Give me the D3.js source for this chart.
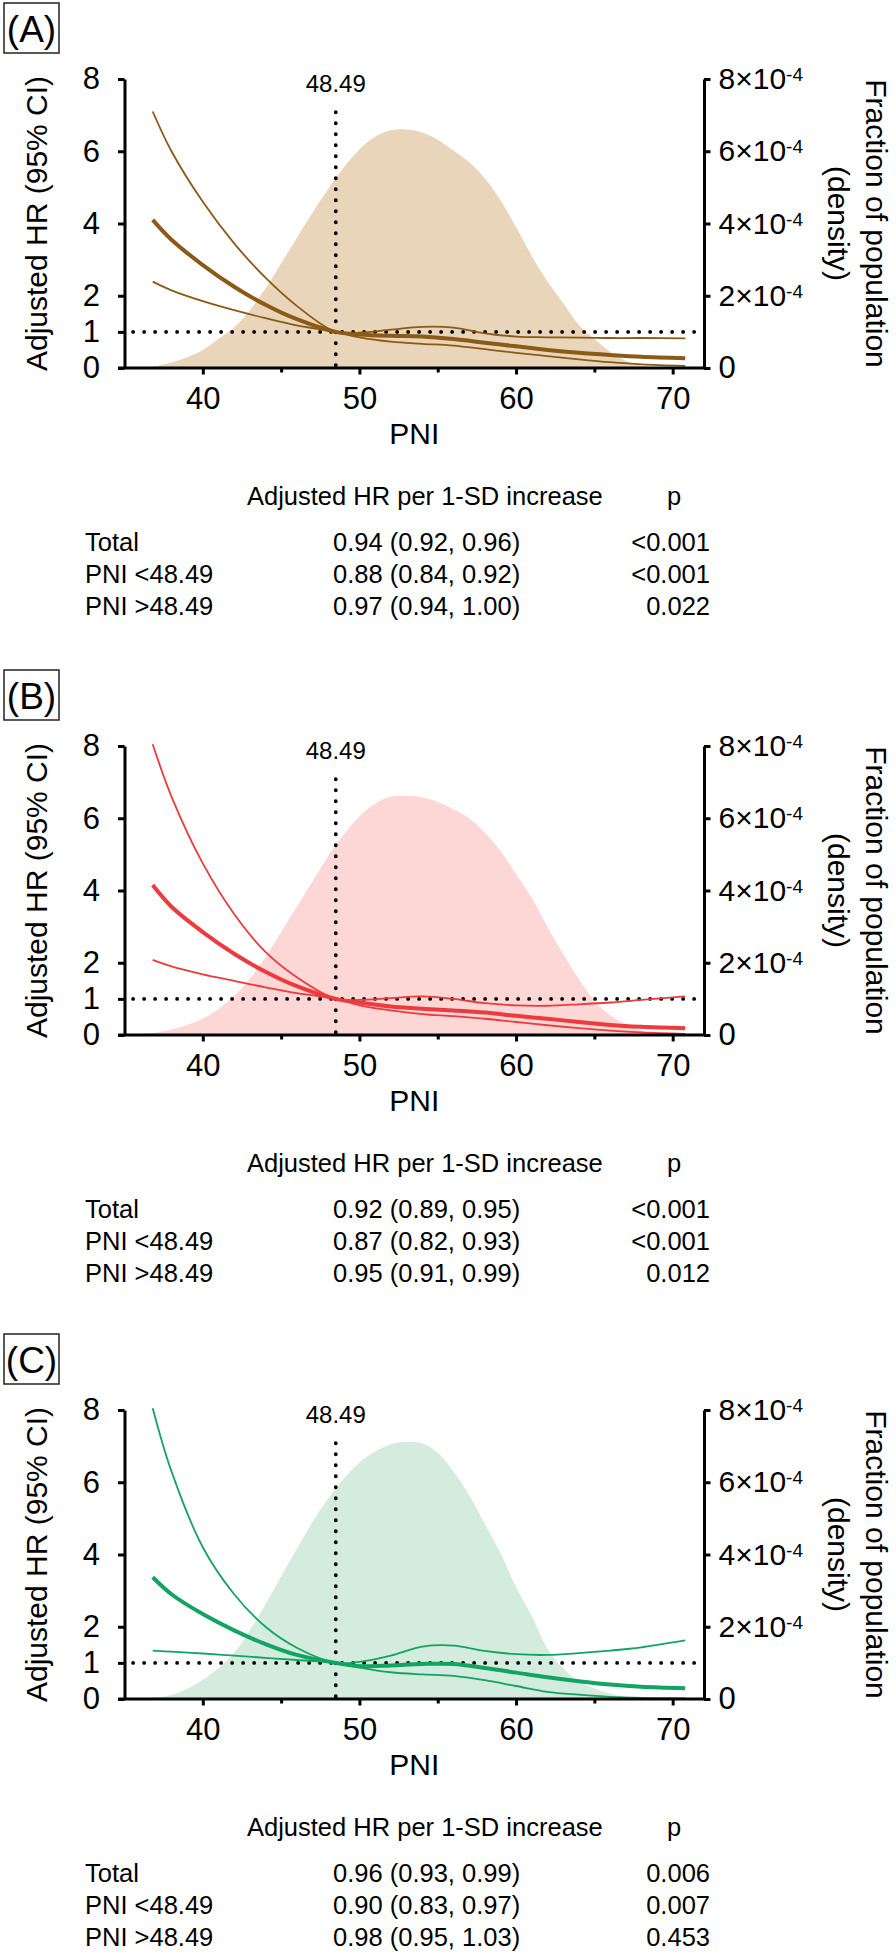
<!DOCTYPE html>
<html><head><meta charset="utf-8">
<script src="https://cdn.jsdelivr.net/npm/d3@7"></script>
<style>
body{margin:0;background:#fff}
svg{display:block}
text{font-family:"Liberation Sans",Arial,Helvetica,sans-serif;fill:#000}
</style>
</head><body>
<svg id="chart" width="896" height="1955"></svg>
<script>
// ---------------- DATA ----------------
const panelLabels = ["(A)", "(B)", "(C)"];
const cutoff = 48.49;
const cutoffLabel = "48.49";

// PNI positions at which HR curves were read
const hrX = [36.8, 38, 40, 42, 44, 46, 48.49, 50, 52, 54, 56, 58, 60, 62, 64, 66, 68, 70.8];

// Panel A (brown)
const hrA      = [4.1, 3.55, 2.85, 2.25, 1.75, 1.35, 1.0, 0.93, 0.89, 0.87, 0.8, 0.7, 0.6, 0.5, 0.42, 0.36, 0.31, 0.27];
const hrUpperA = [7.1, 6.0, 4.6, 3.45, 2.5, 1.72, 1.0, 0.98, 1.06, 1.14, 1.12, 0.96, 0.87, 0.85, 0.84, 0.83, 0.83, 0.82];
const hrLowerA = [2.39, 2.15, 1.85, 1.6, 1.38, 1.18, 1.0, 0.85, 0.73, 0.67, 0.62, 0.52, 0.42, 0.33, 0.24, 0.16, 0.1, 0.06];

// Panel B (red)
const hrB      = [4.15, 3.55, 2.85, 2.25, 1.75, 1.35, 1.0, 0.9, 0.79, 0.73, 0.68, 0.62, 0.53, 0.45, 0.36, 0.28, 0.23, 0.19];
const hrUpperB = [8.05, 6.6, 4.75, 3.35, 2.3, 1.6, 1.0, 0.97, 1.02, 1.07, 1.0, 0.88, 0.82, 0.81, 0.85, 0.9, 0.97, 1.07];
const hrLowerB = [2.08, 1.9, 1.68, 1.5, 1.32, 1.16, 1.0, 0.82, 0.68, 0.58, 0.52, 0.45, 0.36, 0.27, 0.19, 0.12, 0.07, 0.03];

// Panel C (green)
const hrC      = [3.37, 2.9, 2.35, 1.9, 1.52, 1.22, 1.0, 0.91, 0.93, 0.97, 0.97, 0.86, 0.73, 0.6, 0.49, 0.4, 0.34, 0.3];
const hrUpperC = [8.05, 6.3, 4.2, 2.9, 2.0, 1.42, 1.0, 1.03, 1.2, 1.45, 1.48, 1.33, 1.24, 1.22, 1.27, 1.34, 1.43, 1.62];
const hrLowerC = [1.34, 1.31, 1.26, 1.2, 1.14, 1.08, 1.0, 0.87, 0.74, 0.68, 0.64, 0.52, 0.36, 0.2, 0.12, 0.06, 0.03, 0.02];

// Population density (in units of 1e-4) at PNI 36..69
const densX = [36,37,38,39,40,41,42,43,44,45,46,47,48,49,50,51,52,53,54,55,56,57,58,59,60,61,62,63,64,65,66,67,68,69];
const densA = [0,0.05,0.15,0.3,0.5,0.8,1.12,1.6,2.2,2.9,3.6,4.3,4.95,5.55,6.05,6.4,6.58,6.6,6.52,6.32,6.02,5.7,5.25,4.65,3.9,3.1,2.4,1.8,1.2,0.8,0.45,0.2,0.06,0];
const densB = [0.02,0.06,0.15,0.28,0.45,0.72,1.08,1.55,2.15,2.85,3.55,4.25,4.95,5.55,6.05,6.4,6.6,6.62,6.58,6.45,6.25,6.0,5.6,5.1,4.45,3.8,3.0,2.25,1.55,0.95,0.55,0.3,0.12,0.03];
const densC = [0,0.04,0.12,0.28,0.53,0.85,1.27,1.9,2.62,3.4,4.15,4.9,5.55,6.1,6.55,6.85,7.05,7.12,7.08,6.82,6.3,5.65,4.85,4.04,3.1,2.3,1.4,0.85,0.5,0.3,0.15,0.05,0,0];
const densUnit = 1e-4;

// Axis ticks
const xTickValues = [40, 45, 50, 55, 60, 65, 70];
const xTickLabeled = [40, 50, 60, 70];
const yTickValues = [0, 1, 2, 4, 6, 8];
const yRightTickValues = [0, 2, 4, 6, 8];   // x 1e-4

// Table
const tableHeader = "Adjusted HR per 1-SD increase";
const tablePHeader = "p";
const tableRowLabels = ["Total", "PNI <48.49", "PNI >48.49"];
const tableHrA = ["0.94 (0.92, 0.96)", "0.88 (0.84, 0.92)", "0.97 (0.94, 1.00)"];
const tablePA  = ["<0.001", "<0.001", "0.022"];
const tableHrB = ["0.92 (0.89, 0.95)", "0.87 (0.82, 0.93)", "0.95 (0.91, 0.99)"];
const tablePB  = ["<0.001", "<0.001", "0.012"];
const tableHrC = ["0.96 (0.93, 0.99)", "0.90 (0.83, 0.97)", "0.98 (0.95, 1.03)"];
const tablePC  = ["0.006", "0.007", "0.453"];

const lineColors = ["#8b5a14", "#ec3a3d", "#14a462"];
const fillColors = ["#e9d5b9", "#fdd6d6", "#d3ecdd"];

// ---------------- LAYOUT ----------------
const panels = [
  {label: panelLabels[0], hr: hrA, up: hrUpperA, lo: hrLowerA, dens: densA, thr: tableHrA, tp: tablePA},
  {label: panelLabels[1], hr: hrB, up: hrUpperB, lo: hrLowerB, dens: densB, thr: tableHrB, tp: tablePB},
  {label: panelLabels[2], hr: hrC, up: hrUpperC, lo: hrLowerC, dens: densC, thr: tableHrC, tp: tablePC}
];
const panelTops = [79, 746, 1410];
const plotH = 289;
const plotL = 124.5, plotR = 704;
const refLineExtent = [35.55, 71.75];   // PNI extent of the HR = 1 reference line
const cutTopHR = 7.08;                    // top of vertical cut-off line (HR units)
const cutLabelHR = 7.64;

const svg = d3.select("#chart");
const x = d3.scaleLinear().domain([35, 72]).range([plotL, plotR]);
const smooth = d3.curveCatmullRom.alpha(0.5);

panels.forEach((p, i) => {
  const T = panelTops[i];
  const B = T + plotH;
  const col = lineColors[i];
  const y = d3.scaleLinear().domain([0, 8]).range([B, T]);
  const yR = d3.scaleLinear().domain([0, 8 * densUnit]).range([B, T]);
  const g = svg.append("g");

  // panel label box
  const lb = g.append("g");
  lb.append("rect").attr("x", 4).attr("y", T - 76).attr("width", 55).attr("height", 50)
    .attr("fill", "none").attr("stroke", "#222").attr("stroke-width", 1.5);
  lb.append("text").attr("x", 31.5).attr("y", T - 37.5).attr("text-anchor", "middle")
    .attr("font-size", 37).text(p.label);

  // density area
  const dd = densX.map((v, j) => [v, p.dens[j] * densUnit]);
  g.append("path").datum(dd)
    .attr("d", d3.area().x(d => x(d[0])).y0(yR(0)).y1(d => yR(Math.max(0, d[1]))).curve(smooth))
    .attr("fill", fillColors[i]);

  // reference lines
  g.append("line")
    .attr("x1", x(refLineExtent[0])).attr("x2", x(refLineExtent[1]))
    .attr("y1", y(1)).attr("y2", y(1))
    .attr("stroke", "#000").attr("stroke-width", 3.8)
    .attr("stroke-dasharray", "0 11").attr("stroke-linecap", "round");
  g.append("line")
    .attr("x1", x(cutoff)).attr("x2", x(cutoff))
    .attr("y1", y(cutTopHR)).attr("y2", y(0))
    .attr("stroke", "#000").attr("stroke-width", 3.8)
    .attr("stroke-dasharray", "0 11").attr("stroke-linecap", "round");
  g.append("text").attr("x", x(cutoff)).attr("y", y(cutLabelHR))
    .attr("text-anchor", "middle").attr("font-size", 24).text(cutoffLabel);

  // HR curves
  const line = d3.line().x(d => x(d[0])).y(d => y(d[1])).curve(smooth);
  [[p.up, 1.8], [p.lo, 1.8], [p.hr, 4]].forEach(([vals, w]) => {
    g.append("path").datum(hrX.map((v, j) => [v, vals[j]]))
      .attr("d", line).attr("fill", "none").attr("stroke", col)
      .attr("stroke-width", w).attr("stroke-linejoin", "round");
  });

  // axes
  const axL = g.append("g").attr("transform", `translate(${plotL},0)`)
    .call(d3.axisLeft(y).tickValues(yTickValues).tickSize(6.5).tickPadding(18).tickSizeOuter(0));
  const axR = g.append("g").attr("transform", `translate(${plotR},0)`)
    .call(d3.axisRight(yR).tickValues(yRightTickValues.map(v => v * densUnit)).tickSize(6.5).tickPadding(8).tickSizeOuter(0));
  const axB = g.append("g").attr("transform", `translate(0,${B})`)
    .call(d3.axisBottom(x).tickValues(xTickValues)
      .tickFormat(d => xTickLabeled.includes(d) ? d : "")
      .tickSize(6.5).tickPadding(12).tickSizeOuter(0));
  axB.select(".domain").remove();
  axB.append("line").attr("x1", plotL - 6.5).attr("x2", plotR + 1.5).attr("y1", 0).attr("y2", 0)
    .attr("stroke", "#000").attr("stroke-width", 3);
  axB.selectAll(".tick").filter(d => !xTickLabeled.includes(d)).select("line").attr("y2", 4.5);

  [axL, axR, axB].forEach(a => {
    a.selectAll(".domain").attr("stroke", "#000").attr("stroke-width", 3);
    a.selectAll(".tick line").attr("stroke", "#000").attr("stroke-width", 3);
    a.selectAll(".tick text").attr("font-size", 31).attr("font-family", null).attr("fill", "#000");
  });

  axR.selectAll(".tick text").each(function(d) {
    const v = Math.round(d / densUnit);
    const t = d3.select(this);
    t.text(null);
    if (v === 0) { t.text("0"); return; }
    t.attr("font-size", 30);
    t.append("tspan").text(v + "×10");
    t.append("tspan").attr("dy", "-0.42em").attr("font-size", 19).text("-4");
  });

  // axis titles
  g.append("text").attr("transform", `translate(47,${(T + B) / 2}) rotate(-90)`)
    .attr("text-anchor", "middle").attr("font-size", 30).text("Adjusted HR (95% CI)");
  const rt = g.append("text").attr("transform", `translate(866,${(T + B) / 2}) rotate(90)`)
    .attr("text-anchor", "middle").attr("font-size", 30);
  rt.append("tspan").attr("x", 0).attr("y", 0).text("Fraction of population");
  rt.append("tspan").attr("x", 0).attr("y", 38).text("(density)");
  g.append("text").attr("x", (plotL + plotR) / 2).attr("y", B + 76)
    .attr("text-anchor", "middle").attr("font-size", 30).text("PNI");

  // table
  const tb = g.append("g");
  tb.append("text").attr("x", 247).attr("y", T + 426).attr("font-size", 25.5).text(tableHeader);
  tb.append("text").attr("x", 674).attr("y", T + 426).attr("text-anchor", "middle").attr("font-size", 25.5).text(tablePHeader);
  const rowY = [T + 472, T + 504, T + 536];
  tableRowLabels.forEach((lab, r) => {
    tb.append("text").attr("x", 85).attr("y", rowY[r]).attr("font-size", 25.5).text(lab);
    tb.append("text").attr("x", 333).attr("y", rowY[r]).attr("font-size", 25.5).text(p.thr[r]);
    tb.append("text").attr("x", 710).attr("y", rowY[r]).attr("text-anchor", "end").attr("font-size", 25.5).text(p.tp[r]);
  });
});
</script>
</body></html>
